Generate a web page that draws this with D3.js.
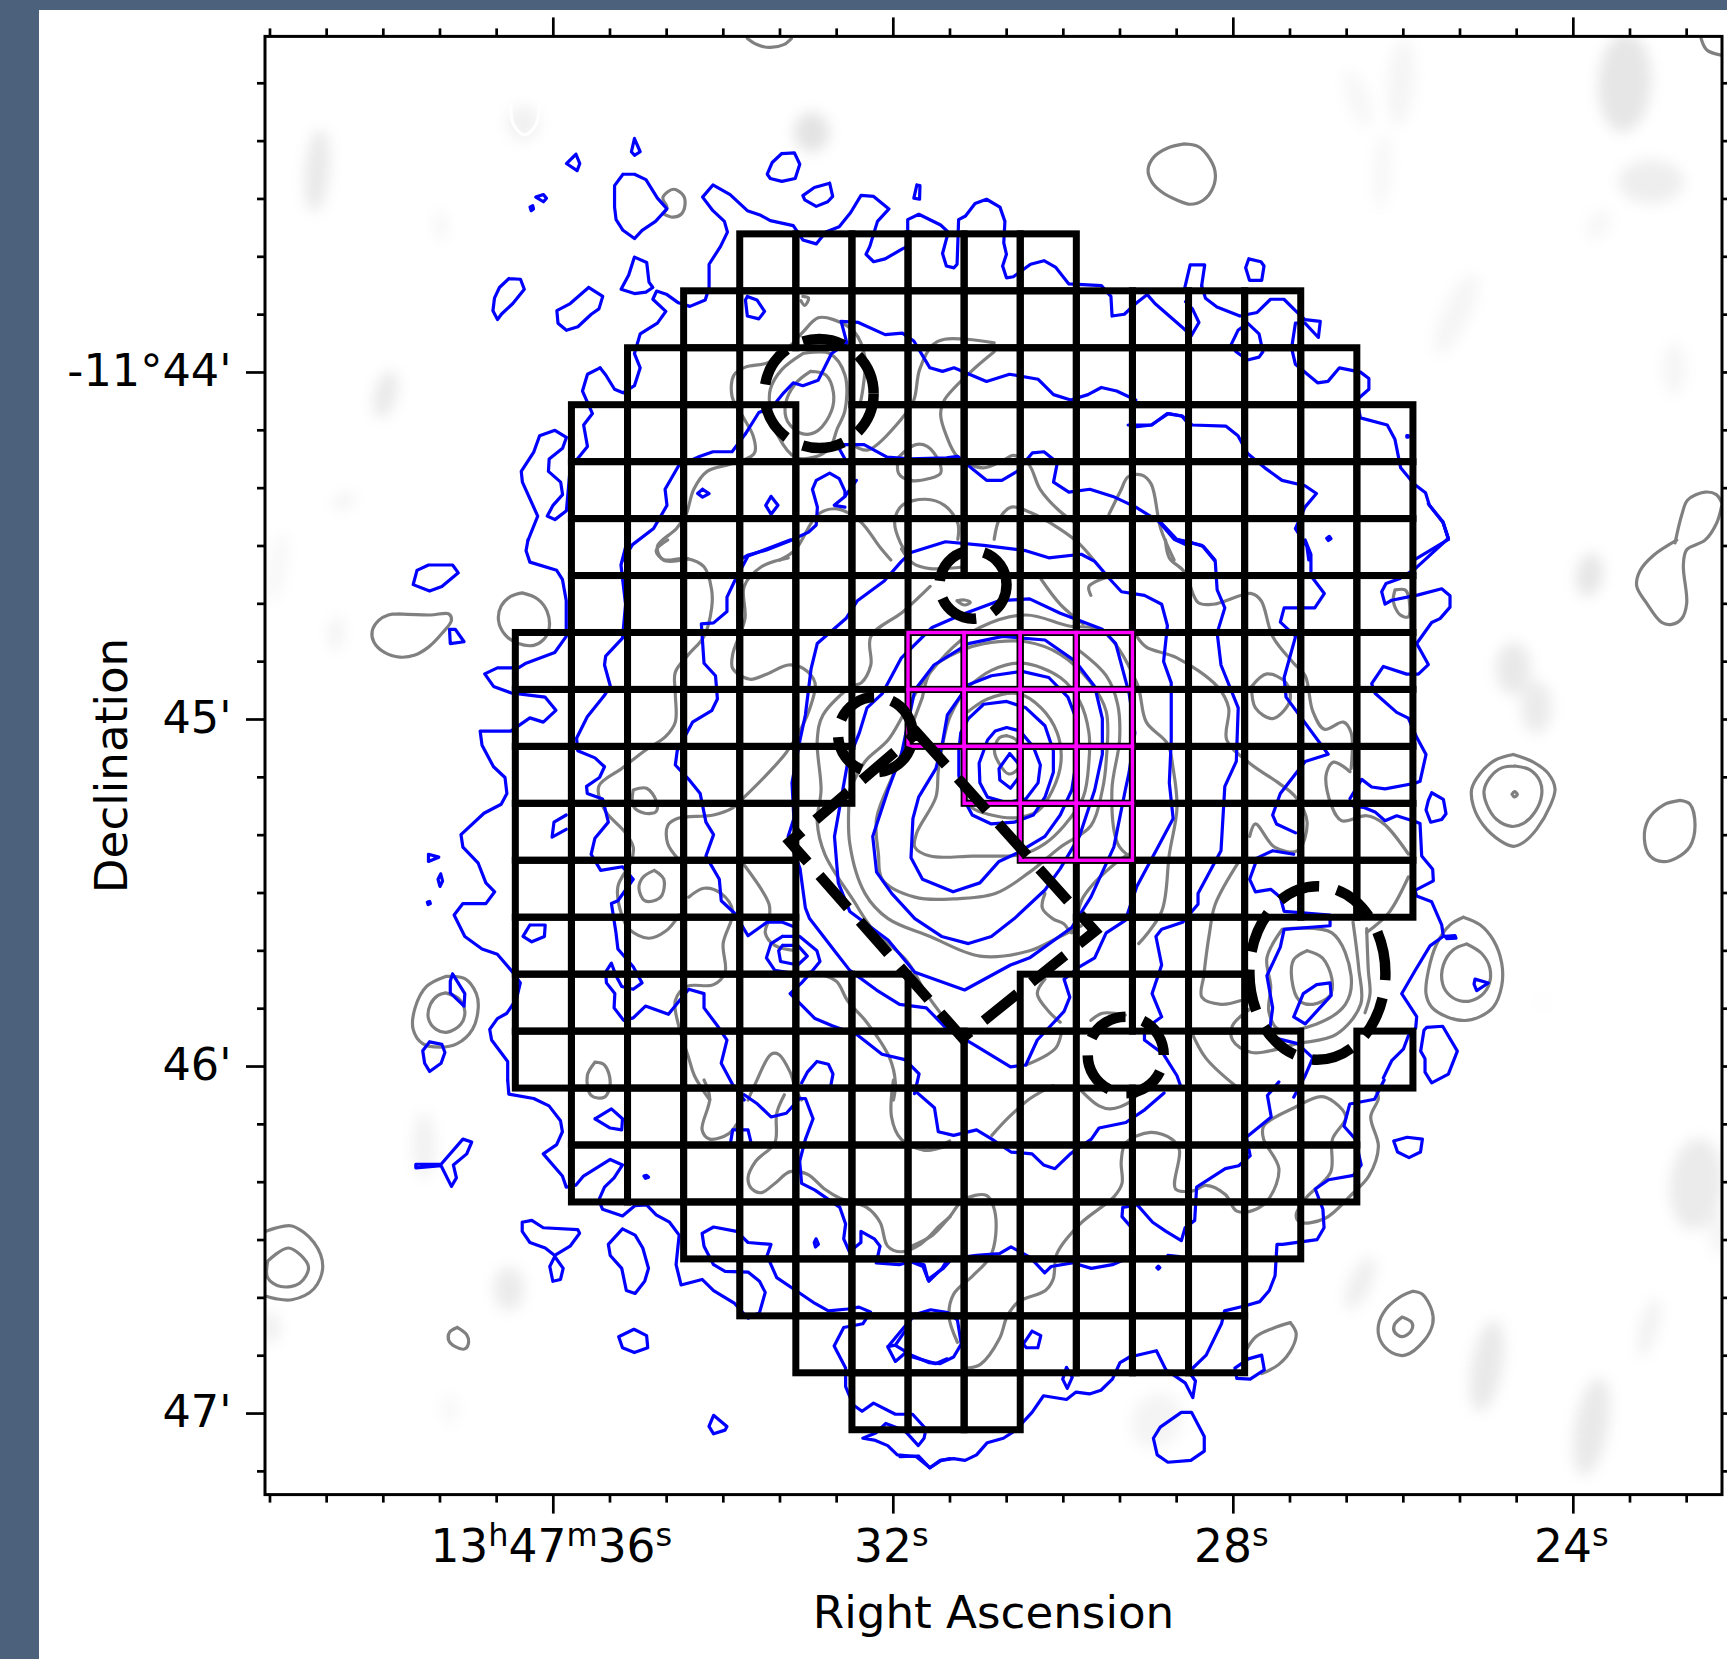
<!DOCTYPE html>
<html>
<head>
<meta charset="utf-8">
<script src="https://cdn.jsdelivr.net/npm/d3@7"></script>
<style>
    html, body { margin: 0; padding: 0; background: #fff; }
    svg { display: block; }
    text { font-family: "DejaVu Sans", sans-serif; fill: #000; }
</style>
</head>
<body>
<div id="plotRegi"></div>
<script>
/* Data */
// Axis ticks: RA in seconds of 13h47m, Dec in arcmin below -11 deg
const raMajor = [36, 32, 28, 24]
const raLabels = [["13", "h", "47", "m", "36", "s"], ["32", "s"], ["28", "s"], ["24", "s"]]
const decMajor = [44, 45, 46, 47]
const decLabels = ["-11°44'", "45'", "46'", "47'"]

// Spaxel map, each row: [row, firstCol, lastCol, firstCol, lastCol, ...]
const blackSpans = [
    [0, 4, 9], [1, 3, 13], [2, 2, 3, 6, 14], [3, 1, 4, 6, 15], [4, 1, 15], [5, 1, 15],
    [6, 1, 6, 9, 15], [7, 0, 15], [8, 0, 5, 7, 15], [9, 0, 5, 8, 15], [10, 0, 4, 9, 15],
    [11, 0, 4, 10, 15], [12, 0, 4, 10, 12], [13, 0, 6, 9, 12], [14, 0, 9, 12, 13, 15, 15],
    [15, 1, 14], [16, 1, 14], [17, 3, 13], [18, 4, 12], [19, 5, 12], [20, 6, 8]
]
const magentaSpans = [[7, 7, 10], [8, 7, 10], [9, 8, 10], [10, 9, 10]]
const spaxelRa0 = 36.441, spaxelRaStep = 0.66
const spaxelDec0 = 43.602, spaxelDecStep = 0.1641

// Masked regions, sky position [ra, dec, radius ra (s), radius dec (arcmin)]
const maskEllipses = [
    [32.868, 44.0622, 0.642, 0.157],
    [31.056, 44.613, 0.394, 0.098],
    [32.205, 45.045, 0.439, 0.108],
    [29.26, 45.968, 0.447, 0.110],
    [27.005, 45.732, 0.800, 0.250]
]
const maskBox = [[31.715, 45.04], [29.621, 45.611], [31.18, 45.919], [33.212, 45.354]]

// Digitised frames: [x origin, y origin, x zoom, y zoom] -> map pixel
const frames = [
    [0, 0, 0.90788, 0.90788],
    [0, 0, 2.613, 2.8],
    [600, 0, 2.613, 2.8],
    [1127, 0, 2.613, 2.8],
    [350, 540, 2.613, 2.8],
    [800, 540, 2.613, 2.8],
    [350, 1080, 2.613, 2.708],
    [900, 1080, 2.613, 2.708],
    [1300, 500, 3, 2.613]
]

// Faint image patches: [x, y, rx, ry, tilt, level]
const patches = [
    [288, 155, 11, 38, 5, 0.8], [350, 358, 10, 22, 15, 0.8], [400, 205, 5, 14, 0, 0.4], [312, 455, 11, 6, -30, 0.5],
    [252, 515, 8, 32, 10, 0.3], [305, 575, 6, 16, 5, 0.5], [475, 112, 15, 16, 0, 0.5], [737, 120, 16, 18, 0, 1],
    [1233, 90, 10, 28, -20, 0.3], [1272, 75, 12, 40, 5, 0.35], [1255, 155, 8, 35, 3, 0.3],
    [1475, 75, 24, 45, 3, 0.9], [1499, 165, 30, 20, 0, 0.6], [1451, 204, 10, 15, 30, 0.3],
    [1322, 285, 12, 40, 25, 0.35], [1520, 335, 10, 24, 0, 0.35], [1443, 522, 12, 20, 10, 0.9],
    [1374, 607, 16, 24, 0, 0.8], [1395, 642, 14, 24, 0, 0.7],
    [1540, 1075, 24, 42, 5, 0.7], [1350, 1240, 14, 42, 10, 0.8], [1445, 1295, 15, 45, 10, 0.8], [1497, 1205, 8, 28, 15, 0.5],
    [1235, 1165, 10, 26, 25, 0.6], [462, 1170, 14, 20, 0, 0.7], [385, 1040, 10, 30, 0, 0.5], [408, 1280, 7, 14, 0, 0.3],
    [246, 1205, 8, 14, 0, 0.6], [1050, 1290, 22, 26, 30, 0.4], [1400, 910, 5, 5, 0, 0.2], [1560, 1120, 8, 20, 0, 0.4]
]

// White contour
const whiteLines = [[1, [1335, 295, 1340, 345, 1370, 378, 1400, 350, 1410, 295]]]

// Gray contours: [frame, [x, y, ...]]
const grayLines = [
    [2, [385, 108, 410, 125, 445, 133, 480, 125, 500, 108]],
    [3, [1500, 108, 1515, 140, 1555, 155]],
    [3, [150, 403, 185, 410, 210, 435, 230, 480, 225, 525, 200, 560, 165, 572, 130, 560, 90, 537, 65, 510, 55, 475, 70, 440, 105, 415, 150, 403]],
    [2, [165, 598, 190, 608, 212, 600, 222, 575, 218, 548, 192, 530, 165, 550, 165, 560, 175, 580, 165, 598]],
    [4, [125, 207, 210, 210, 258, 207, 265, 225, 240, 262, 205, 300, 170, 322, 130, 328, 90, 315, 62, 285, 58, 255, 75, 225, 100, 210, 125, 207]],
    [4, [450, 148, 490, 165, 515, 200, 520, 250, 505, 280, 480, 295, 440, 290, 405, 265, 388, 225, 395, 185, 420, 158, 450, 148]],
    [4, [250, 1222, 300, 1228, 330, 1270, 335, 1310, 320, 1370, 280, 1410, 235, 1420, 190, 1410, 165, 1370, 170, 1310, 200, 1250, 250, 1222]],
    [4, [250, 1268, 285, 1285, 300, 1320, 290, 1355, 255, 1378, 225, 1370, 205, 1340, 210, 1300, 230, 1275, 250, 1268]],
    [0, [236, 1120, 250, 1115, 265, 1113, 285, 1128, 293, 1150, 285, 1170, 265, 1180, 250, 1179, 236, 1175]],
    [0, [243, 1145, 262, 1133, 280, 1150, 272, 1165, 255, 1168, 243, 1160, 243, 1145]],
    [6, [280, 670, 305, 690, 310, 710, 300, 728, 275, 722, 258, 705, 260, 683, 280, 670]],
    [7, [1340, 572, 1365, 580, 1390, 625, 1392, 660, 1370, 705, 1320, 745, 1285, 738, 1255, 705, 1250, 665, 1270, 620, 1310, 585, 1340, 572]],
    [7, [1312, 642, 1338, 658, 1335, 680, 1312, 695, 1292, 682, 1292, 662, 1312, 642]],
    [7, [1020, 657, 1035, 685, 1025, 725, 990, 770, 945, 795]],
    [7, [905, 730, 930, 695, 975, 672, 1020, 657]],
    [8, [640, 665, 700, 685, 745, 715, 765, 755, 750, 800, 710, 860, 670, 895, 640, 905, 600, 890, 550, 850, 520, 800, 515, 755, 540, 715, 585, 680, 640, 665]],
    [8, [645, 695, 690, 705, 720, 735, 725, 770, 705, 815, 670, 845, 635, 853, 590, 835, 560, 795, 552, 760, 570, 725, 605, 700, 645, 695]],
    [8, [636, 769, 643, 762, 652, 769, 643, 776, 636, 769]],
    [8, [1140, 785, 1170, 795, 1185, 850, 1170, 905, 1130, 935, 1090, 945, 1050, 930, 1033, 885, 1045, 835, 1090, 797, 1140, 785]],
    [8, [1130, 105, 1060, 145, 1020, 185, 1010, 225, 1040, 270, 1085, 320, 1115, 325, 1145, 310, 1160, 270, 1150, 170, 1160, 130, 1215, 105, 1250, 60, 1265, 15]],
    [3, [1432, 1520, 1450, 1440, 1465, 1400, 1510, 1378, 1540, 1385, 1555, 1410]],
    [8, [490, 1090, 540, 1110, 580, 1150, 605, 1210, 605, 1270, 580, 1325, 540, 1350, 495, 1360, 440, 1350, 395, 1325, 378, 1290, 385, 1230, 410, 1160, 450, 1110, 490, 1090]],
    [8, [500, 1160, 545, 1185, 570, 1225, 565, 1270, 535, 1300, 490, 1310, 450, 1295, 428, 1265, 430, 1215, 460, 1175, 500, 1160]],
    [8, [285, 235, 315, 235, 325, 250, 325, 305, 300, 300, 280, 265, 285, 235]],
    // top of the map
    [2, [530, 830, 545, 835, 535, 855, 525, 842]],
    [2, [550, 1040, 590, 1050, 610, 1100, 605, 1150, 570, 1205, 530, 1215, 490, 1180, 485, 1130, 510, 1075, 550, 1040]],
    [2, [530, 990, 600, 990, 640, 1050, 640, 1150, 620, 1200, 600, 1255, 560, 1280, 510, 1280, 465, 1220, 445, 1150, 445, 1090, 475, 1035, 530, 990]],
    [2, [680, 1130, 688, 1080, 692, 1000, 665, 930, 610, 895, 570, 890, 530, 930, 500, 965, 440, 1015, 380, 1028, 350, 1050, 345, 1110, 375, 1170, 400, 1220, 405, 1265, 395, 1278, 340, 1300, 280, 1320, 245, 1370, 225, 1440, 200, 1480, 150, 1530, 165, 1568, 230, 1565]],
    [2, [1030, 960, 960, 950, 900, 950, 870, 965, 835, 1035, 820, 1120, 790, 1170, 700, 1260, 660, 1245]],
    [2, [1030, 985, 970, 1040, 900, 1120, 890, 1160, 905, 1220, 935, 1280, 1000, 1310, 1060, 1285, 1080, 1275, 1120, 1300, 1150, 1370, 1200, 1430, 1250, 1470]],
    [2, [780, 1280, 825, 1245, 855, 1250, 885, 1290, 890, 1325, 860, 1340, 810, 1345, 780, 1325, 780, 1280]],
    [2, [810, 1560, 785, 1520, 770, 1460, 790, 1415, 850, 1398, 900, 1415, 935, 1465, 935, 1510]],
    [2, [1030, 1510, 1045, 1450, 1075, 1420, 1125, 1435, 1200, 1480, 1250, 1520, 1290, 1568]],
    [2, [1330, 1440, 1360, 1375, 1380, 1335, 1415, 1330, 1440, 1355, 1465, 1480, 1500, 1568]],
    [2, [470, 1568, 510, 1540, 570, 1440, 620, 1425, 680, 1460, 730, 1530, 760, 1568]],
    // left of the map
    [4, [830, 0, 800, 30, 820, 55, 880, 52, 925, 75, 945, 140, 945, 190, 925, 270, 885, 320, 850, 370, 850, 430, 850, 510, 825, 550, 770, 590, 710, 640, 650, 690, 665, 755, 720, 820, 740, 860, 735, 900, 700, 970, 710, 1050, 730, 1090, 780, 1115, 825, 1095, 860, 1050]],
    [4, [1145, 50, 1075, 75, 1030, 130, 1032, 220, 1000, 320, 1000, 360, 1045, 390, 1090, 375, 1145, 350, 1185, 360, 1215, 400, 1205, 460, 1180, 525, 1140, 595, 1095, 650, 1030, 720, 1000, 750, 950, 770, 855, 780, 830, 800, 830, 850, 855, 890]],
    [4, [740, 700, 775, 695, 800, 730, 800, 760, 770, 765, 740, 745, 740, 700]],
    [4, [795, 925, 820, 950, 815, 995, 800, 1008, 770, 1010, 755, 975, 765, 945, 795, 925]],
    [4, [1030, 910, 1095, 1020, 1095, 1060, 1085, 1100, 1110, 1135, 1165, 1150]],
    [4, [885, 1000, 925, 975, 970, 990, 1000, 1040, 975, 1130, 980, 1210, 950, 1245, 880, 1250, 850, 1290, 860, 1365, 885, 1450, 900, 1500, 940, 1568]],
    [4, [640, 1462, 665, 1470, 680, 1520, 665, 1560, 630, 1555, 620, 1500, 640, 1462]],
    [4, [1040, 1568, 1060, 1520, 1100, 1440, 1120, 1440, 1150, 1490, 1165, 1540, 1180, 1568]],
    [4, [1205, 1210, 1270, 1235, 1300, 1290, 1350, 1350, 1410, 1450, 1425, 1520, 1420, 1568]],
    // central source
    [5, [540, 548, 565, 560, 575, 600, 570, 640, 545, 655, 520, 625, 508, 590, 520, 555, 540, 548]],
    [5, [430, 710, 450, 750, 500, 770, 560, 778, 620, 760, 660, 700, 682, 620, 672, 540, 630, 470, 570, 430, 490, 445, 440, 480]],
    [5, [430, 420, 500, 365, 580, 345, 680, 385, 730, 450, 755, 540, 755, 620, 740, 720, 690, 800, 640, 850, 580, 880, 450, 885, 340, 885, 300, 860, 305, 820, 355, 720, 362, 640, 390, 500, 430, 420]],
    [5, [320, 440, 345, 360, 420, 310, 480, 290, 590, 285, 680, 320, 760, 400, 800, 480, 800, 620, 790, 700, 760, 800, 680, 860, 600, 930, 510, 990, 400, 1005, 300, 1000, 215, 950, 205, 880, 200, 780, 250, 640, 320, 440]],
    [5, [730, 310, 800, 380, 830, 460, 835, 560, 815, 700, 830, 850, 860, 885]],
    [5, [130, 700, 130, 850, 170, 990, 230, 1060, 340, 1110, 470, 1165, 600, 1150, 680, 1110, 735, 1080]],
    [5, [130, 700, 170, 620, 230, 560, 275, 480, 320, 400, 400, 300, 470, 245, 590, 210, 700, 240, 790, 255, 880, 400, 905, 510, 960, 570, 975, 640, 985, 750, 965, 880, 945, 1040, 885, 1130]],
    [5, [340, 130, 270, 200, 185, 270, 185, 350, 160, 400, 135, 410, 60, 490, 45, 560, 55, 700, 45, 790, 65, 880, 140, 1010, 190, 1090, 280, 1180, 330, 1270, 400, 1370]],
    [5, [640, 990, 633, 1030, 660, 1060, 690, 1075, 710, 1100, 740, 1000, 830, 900, 860, 880]],
    [5, [430, 75, 340, 80, 295, 65, 265, 25]],
    [5, [410, 170, 430, 168, 445, 175, 430, 182, 410, 170]],
    [5, [630, 110, 680, 180, 740, 235]],
    [5, [760, 155, 755, 130, 800, 105]],
    // right of the source
    [5, [955, 0, 965, 50, 1005, 90, 1040, 175, 1080, 180, 1180, 150, 1205, 170, 1235, 270, 1290, 345, 1320, 380, 1340, 480, 1370, 530, 1420, 510, 1440, 540, 1440, 640]],
    [5, [1180, 410, 1220, 375, 1270, 400, 1280, 450, 1235, 500, 1190, 470, 1180, 410]],
    [5, [880, 270, 905, 300, 985, 330, 1090, 410, 1120, 470, 1115, 560, 1175, 625, 1250, 680, 1295, 720, 1325, 790, 1300, 870, 1240, 860, 1190, 795, 1175, 830]],
    [8, [150, 710, 100, 685, 78, 720, 95, 800, 125, 838, 200, 825, 250, 845, 325, 925]],
    [5, [1325, 1150, 1365, 1170, 1390, 1230, 1385, 1275, 1340, 1300, 1305, 1290, 1285, 1230, 1290, 1175, 1325, 1150]],
    [5, [1260, 1090, 1390, 1100, 1440, 1220, 1425, 1300, 1350, 1355, 1250, 1370, 1225, 1320, 1230, 1250, 1220, 1170, 1260, 1090]],
    [5, [1445, 1070, 1460, 1200, 1465, 1300, 1400, 1385, 1300, 1410, 1180, 1435, 1130, 1400, 1130, 1360, 1180, 1310]],
    [8, [200, 1120, 205, 1230, 210, 1290, 195, 1340]],
    [8, [325, 985, 265, 1080, 200, 1130]],
    [5, [1150, 895, 1085, 1020, 1070, 1100, 1055, 1220, 1050, 1280, 1100, 1300, 1150, 1290]],
    [5, [1020, 1370, 1060, 1450, 1140, 1530]],
    [5, [640, 1230, 620, 1270, 650, 1320, 680, 1350]],
    [5, [590, 1470, 640, 1445, 670, 1420, 685, 1370]],
    [5, [760, 1345, 790, 1325, 850, 1330]],
    // below the source
    [6, [925, 0, 940, 50, 920, 135, 940, 160, 990, 145, 1010, 120]],
    [6, [1135, 40, 1115, 90, 1110, 170, 1060, 220, 1040, 265, 1050, 295, 1075, 305, 1110, 280, 1150, 248, 1195, 255, 1240, 295, 1280, 320, 1350, 345, 1385, 385, 1405, 450, 1440, 465, 1490, 445, 1540, 395, 1568, 370]],
    [7, [30, 450, 85, 420, 130, 370, 165, 325, 225, 312, 245, 345, 250, 420, 235, 480, 190, 530, 140, 580, 128, 640, 150, 710]],
    [6, [1420, 0, 1415, 100, 1440, 160, 1500, 190, 1568, 175]],
    [7, [30, 175, 70, 190, 130, 165]],
    [7, [175, 780, 210, 770, 260, 700, 280, 640, 310, 600, 380, 570, 400, 540, 410, 470, 470, 390, 560, 315, 580, 280, 578, 220, 590, 170, 655, 142, 710, 160, 730, 190, 720, 295, 765, 300, 800, 285, 850, 310, 880, 355, 930, 350, 965, 320, 990, 240, 950, 160, 950, 125, 1030, 75, 1100, 45, 1135, 60, 1165, 100, 1130, 160, 1125, 250, 1060, 320, 1035, 365, 1045, 385, 1110, 375, 1180, 310, 1225, 260, 1250, 180, 1230, 100, 1250, 50, 1245, 30]],
    [7, [240, 150, 285, 100, 340, 50, 400, 15]],
    [7, [470, 25, 520, 70, 550, 78, 600, 60, 620, 40]]
]

// Blue contours: [frame, [x, y, ...]]
const blueLines = [
    [1, [1505, 432, 1515, 458, 1508, 478, 1480, 458, 1505, 432]],
    [1, [1400, 552, 1420, 545, 1428, 555, 1420, 565, 1400, 552]],
    [1, [1385, 580, 1392, 576, 1394, 585, 1388, 590, 1385, 580]],
    [1, [1330, 780, 1360, 782, 1370, 810, 1340, 850, 1310, 880, 1300, 895, 1288, 870, 1292, 835, 1305, 805, 1330, 780]],
    [1, [1538, 805, 1575, 830, 1565, 865, 1545, 880, 1510, 915, 1480, 925, 1458, 905, 1455, 870, 1490, 850, 1538, 805]],
    [1, [1568, 1030, 1535, 1048, 1522, 1095, 1548, 1158, 1525, 1190, 1535, 1250, 1490, 1310, 1480, 1430, 1450, 1455, 1430, 1445, 1445, 1415, 1470, 1385, 1465, 1350, 1433, 1320, 1435, 1285, 1470, 1255, 1480, 1225, 1450, 1205, 1410, 1220, 1395, 1265, 1362, 1320, 1365, 1350, 1405, 1445, 1380, 1512]],
    [2, [90, 388, 105, 425, 90, 435, 82, 425, 90, 388]],
    [2, [60, 488, 90, 488, 120, 503, 150, 555, 175, 585, 145, 620, 110, 645, 90, 668, 60, 645, 42, 615, 38, 580, 38, 520, 60, 488]],
    [2, [475, 430, 508, 428, 522, 460, 510, 500, 475, 508, 445, 500, 437, 488, 450, 455, 475, 430]],
    [2, [600, 513, 608, 550, 595, 565, 565, 578, 535, 560, 530, 548, 560, 525, 600, 513]],
    [2, [828, 518, 836, 520, 835, 558, 820, 555, 828, 518]],
    [2, [90, 720, 122, 735, 128, 790, 138, 805, 120, 818, 90, 822, 55, 810, 75, 770, 90, 720]],
    // outer edge, top
    [2, [0, 1030, 15, 1050, 38, 1090, 60, 1100, 90, 1080, 105, 1030, 90, 990, 105, 935, 150, 905, 172, 872, 138, 838, 148, 815, 175, 825, 205, 848, 235, 858, 275, 840, 285, 805, 285, 740, 315, 690, 333, 650, 325, 620, 295, 590, 268, 552, 295, 518, 340, 545, 385, 590, 420, 603, 445, 618, 505, 632, 530, 672, 565, 683, 590, 650, 625, 635, 655, 595, 682, 547, 715, 550, 755, 585, 725, 620, 705, 690, 695, 712, 715, 733, 745, 725, 790, 697, 804, 690, 804, 615, 833, 600, 890, 630, 910, 650, 895, 710, 905, 745, 925, 750, 933, 740, 937, 615, 955, 605, 980, 570, 1010, 558, 1045, 580, 1058, 620, 1055, 680, 1062, 712, 1052, 745, 1062, 778, 1080, 775, 1125, 740, 1160, 730, 1190, 748, 1225, 795, 1310, 800, 1335, 830, 1338, 885, 1370, 880, 1400, 850, 1430, 825, 1450, 850, 1525, 920, 1545, 940, 1565, 903, 1548, 865, 1530, 845]],
    [3, [195, 800, 205, 835, 235, 860, 295, 885, 340, 875, 375, 838, 410, 838, 440, 870, 465, 895, 505, 900, 500, 945, 465, 905, 440, 905, 430, 975, 440, 1020, 498, 1072, 525, 1068, 555, 1030, 610, 1042, 632, 1060, 632, 1090, 600, 1120, 610, 1170, 680, 1190, 700, 1230, 715, 1310, 750, 1355, 780, 1380, 790, 1415, 825, 1460, 840, 1510, 755, 1565]],
    [3, [150, 810, 165, 742, 203, 742, 195, 800]],
    [3, [318, 725, 350, 733, 358, 745, 352, 785, 320, 785, 310, 750, 318, 725]],
    [3, [290, 925, 315, 905, 345, 935, 355, 985, 345, 1000, 315, 1008, 285, 985, 272, 965, 290, 925]],
    [3, [731, 1220, 735, 1220, 735, 1224, 731, 1224, 731, 1220]],
    // second contour
    [2, [380, 1215, 415, 1155, 450, 1140, 480, 1100, 505, 1072, 530, 1080, 570, 1065, 605, 990, 645, 960, 630, 900, 675, 903, 745, 937, 790, 933, 820, 955, 862, 1030, 895, 1040, 925, 1030, 965, 1048, 1010, 1068, 1070, 1048, 1145, 1062, 1185, 1105, 1230, 1120, 1275, 1105, 1310, 1085, 1350, 1095, 1400, 1120]],
    [2, [1380, 1190, 1440, 1190, 1485, 1158, 1520, 1165, 1540, 1190]],
    [3, [25, 1195, 65, 1190, 105, 1158, 145, 1165, 170, 1190, 258, 1193, 290, 1220, 315, 1270, 360, 1310, 405, 1345, 465, 1360, 495, 1382, 465, 1420, 440, 1480, 470, 1530, 475, 1568]],
    [2, [380, 1215, 345, 1265, 295, 1265, 260, 1278, 205, 1305, 170, 1370, 175, 1415, 140, 1480, 85, 1525, 60, 1568]],
    [2, [385, 830, 410, 840, 430, 872, 415, 893, 385, 885, 380, 840, 385, 830]],
    [2, [670, 1345, 640, 1390, 612, 1415, 640, 1420]],
    [2, [640, 1390, 640, 1375, 625, 1340, 600, 1325, 565, 1345, 555, 1370, 568, 1420, 565, 1470, 545, 1490, 495, 1515, 435, 1540, 385, 1555, 365, 1568]],
    [2, [447, 1390, 465, 1415, 447, 1440, 433, 1415, 447, 1390]],
    [2, [268, 1370, 285, 1382, 268, 1392, 255, 1382, 268, 1370]],
    [2, [622, 1250, 640, 1285]],
    [2, [622, 1250, 640, 1245, 690, 1245, 750, 1280, 810, 1285, 905, 1282, 935, 1278, 975, 1315, 1010, 1345, 1050, 1345, 1090, 1320, 1130, 1268, 1160, 1265, 1195, 1295, 1185, 1350, 1225, 1378, 1280, 1370, 1340, 1390, 1400, 1420, 1460, 1460, 1500, 1510, 1540, 1530]],
    [3, [90, 1465, 130, 1510, 170, 1520, 200, 1530, 230, 1568]],
    // outer edge, left
    [4, [465, 0, 460, 30, 470, 62, 540, 85, 555, 110, 565, 170, 565, 270, 535, 315, 460, 345, 440, 358, 385, 358, 352, 375, 375, 410, 420, 428, 510, 440, 538, 477, 505, 510, 470, 498, 420, 535, 340, 535, 345, 575, 375, 635, 405, 665, 410, 710, 395, 740, 350, 765, 290, 825, 295, 860, 335, 905, 355, 960, 378, 985, 355, 1018, 295, 1018, 272, 1050, 300, 1110, 345, 1145, 385, 1160, 425, 1210, 445, 1240, 435, 1285, 410, 1325, 385, 1340, 365, 1370, 370, 1400, 412, 1460, 412, 1512]],
    [6, [412, 0, 415, 38, 480, 50, 520, 70, 550, 110, 555, 140, 540, 175, 505, 200, 555, 260, 565, 290, 590, 285, 610, 260, 680, 215, 712, 230, 690, 265, 665, 290, 650, 325, 660, 350, 712, 368, 745, 340, 775, 338, 800, 365, 835, 385, 860, 420, 852, 500, 865, 555, 920, 540, 950, 570, 1005, 605, 1040, 645, 1070, 630, 1085, 575, 1070, 545, 1040, 520, 980, 518, 950, 500, 925, 450, 920, 415, 950, 398, 1010, 410, 1040, 440, 1100, 445, 1090, 475, 1100, 500, 1115, 535, 1165, 570, 1215, 605, 1250, 625, 1300, 620, 1330, 615, 1360, 628, 1340, 660, 1290, 670, 1265, 720, 1295, 780, 1295, 830, 1315, 880, 1338, 897, 1368, 875, 1425, 905, 1470, 905, 1505, 945, 1500, 970, 1485, 990, 1450, 950, 1400, 930, 1375, 955, 1340, 970, 1370, 975, 1405, 990, 1430, 1015, 1480, 1020, 1515, 1050, 1545, 1030, 1568, 1025]],
    [7, [0, 1020, 48, 1018, 78, 1050, 105, 1030, 140, 1025, 170, 1030, 200, 1015, 228, 982, 270, 970, 300, 950, 345, 900, 375, 855, 435, 865, 460, 845, 495, 850, 525, 840, 555, 810, 575, 765, 600, 750, 670, 733, 695, 785, 745, 820, 765, 860, 772, 815, 755, 790, 800, 745, 840, 660, 848, 625, 900, 612, 940, 600, 965, 570, 980, 530, 985, 445, 1000, 445, 1090, 432, 1108, 400, 1105, 350, 1085, 295, 1120, 270, 1185, 258, 1205, 230, 1190, 160, 1160, 125, 1175, 65, 1240, 52, 1265, 0]],
    [8, [250, 1510, 275, 1465, 310, 1435, 325, 1400, 347, 1380, 350, 1350, 305, 1290, 345, 1230, 390, 1165, 430, 1140, 425, 1110, 395, 1050, 350, 1035, 345, 1020, 400, 995, 398, 965, 365, 930, 360, 845, 345, 840, 290, 825, 255, 838, 225, 815, 190, 803, 160, 800]],
    [8, [150, 780, 185, 730, 215, 750, 255, 755, 345, 740, 360, 735, 378, 665, 350, 620, 325, 570, 290, 555, 225, 505, 215, 480, 250, 435, 320, 455, 355, 455, 385, 430, 350, 375, 395, 320, 420, 310, 450, 280, 450, 250, 425, 232, 355, 248, 275, 262, 255, 272, 245, 240, 258, 218, 300, 205, 345, 180, 445, 100, 430, 60, 385, 10]],
    [3, [840, 1510, 825, 1460]],
    [8, [395, 765, 430, 782, 438, 820, 425, 835, 392, 842, 378, 810, 385, 785, 395, 765]],
    [8, [435, 1140, 465, 1138, 468, 1145, 440, 1146, 435, 1140]],
    [8, [525, 1252, 565, 1262, 530, 1282, 522, 1265, 525, 1252]],
    [8, [380, 1378, 428, 1375, 472, 1440, 445, 1500, 395, 1523, 375, 1495, 375, 1460, 362, 1440, 372, 1385, 380, 1378]],
    [8, [80, 100, 88, 95, 93, 101, 85, 106, 80, 100]],
    // inner left contours
    [4, [725, 0, 708, 70, 720, 180, 712, 275, 668, 325, 665, 350, 680, 408, 665, 435, 620, 495, 592, 555, 595, 590, 640, 610, 665, 635, 652, 665, 618, 690, 620, 710, 660, 725, 675, 790, 640, 835, 630, 880, 655, 925, 712, 915, 740, 950, 700, 1010, 683, 1018, 695, 1100, 700, 1145, 740, 1195, 763, 1240, 740, 1258, 710, 1250, 695, 1220, 683, 1185, 668, 1210, 670, 1240, 692, 1270, 690, 1310, 715, 1345, 740, 1338, 772, 1305, 832, 1328, 885, 1258, 925, 1270, 925, 1310, 960, 1360, 985, 1400, 970, 1465, 1000, 1525, 1030, 1568]],
    [4, [1150, 0, 1040, 45, 1005, 115, 985, 160, 985, 200, 950, 232, 918, 235, 925, 345, 955, 380, 960, 445, 945, 478, 895, 510, 855, 590, 850, 630, 885, 670, 915, 710, 930, 790, 950, 825, 930, 885, 965, 950, 970, 1010, 1005, 1045, 1040, 1108, 1090, 1070, 1130, 1070, 1165, 1085]],
    [4, [1130, 1110, 1175, 1110, 1220, 1150, 1228, 1180, 1205, 1210, 1180, 1240, 1150, 1270, 1178, 1300, 1215, 1340, 1260, 1360, 1325, 1385, 1390, 1440, 1450, 1455, 1487, 1495, 1475, 1550]],
    [4, [1130, 1110, 1100, 1130, 1088, 1170, 1110, 1205, 1165, 1215, 1205, 1210]],
    [4, [1130, 1135, 1170, 1135, 1195, 1165, 1170, 1190, 1125, 1180, 1120, 1150, 1130, 1135]],
    [4, [175, 85, 205, 70, 268, 70, 283, 92, 240, 130, 208, 143, 165, 125, 175, 85]],
    [4, [260, 250, 275, 250, 298, 285, 262, 290, 260, 250]],
    [4, [565, 770, 533, 790, 528, 832, 565, 810]],
    [4, [205, 880, 232, 888, 205, 900, 205, 880]],
    [4, [237, 935, 242, 955, 235, 970, 230, 950, 237, 935]],
    [4, [202, 1014, 208, 1012, 210, 1018, 204, 1021, 202, 1014]],
    [4, [470, 1078, 510, 1078, 508, 1110, 475, 1125, 452, 1110, 470, 1078]],
    [4, [268, 1215, 300, 1270, 298, 1305, 262, 1268, 262, 1235, 268, 1215]],
    [4, [208, 1405, 240, 1412, 248, 1435, 238, 1465, 208, 1488, 195, 1465, 190, 1430, 208, 1405]],
    [4, [1180, 1520, 1195, 1490, 1220, 1460, 1250, 1468, 1262, 1495, 1255, 1535]],
    // central source
    [5, [548, 598, 578, 635, 575, 660, 550, 695, 522, 672, 520, 640, 548, 598]],
    [5, [510, 535, 540, 525, 575, 535, 610, 580, 628, 630, 622, 680, 590, 725, 540, 735, 490, 720, 470, 680, 468, 625, 490, 560, 510, 535]],
    [5, [440, 500, 480, 460, 540, 452, 590, 470, 640, 520, 662, 590, 662, 650, 640, 720, 610, 770, 560, 790, 500, 795, 450, 770, 430, 730, 415, 660, 415, 590, 420, 540, 440, 500]],
    [5, [440, 405, 500, 380, 580, 368, 650, 385, 700, 440, 725, 510, 725, 600, 710, 700, 680, 770, 640, 830, 565, 878, 520, 900, 470, 960, 400, 985, 320, 950, 290, 890, 295, 780, 310, 720, 355, 640, 372, 570, 385, 490, 440, 405]],
    [5, [300, 420, 350, 350, 440, 290, 530, 270, 640, 280, 720, 340, 770, 410, 790, 500, 790, 600, 770, 700, 730, 830, 680, 920, 640, 980, 560, 1060, 500, 1110, 440, 1130, 370, 1110, 300, 1060, 240, 990, 200, 930, 190, 830, 230, 700, 265, 600, 300, 420]],
    [5, [345, 245, 420, 210, 520, 170, 600, 165, 680, 205, 790, 250, 825, 290, 860, 430, 875, 540, 860, 650, 850, 700, 820, 860, 760, 1000, 710, 1085, 600, 1170, 550, 1190, 430, 1260, 300, 1210, 230, 1120, 130, 1040, 100, 960, 90, 830, 125, 620, 155, 540, 175, 470, 215, 430, 265, 330, 345, 245]],
    [5, [45, 290, 120, 220, 150, 170, 220, 115, 265, 60, 290, 35, 380, 5, 480, 15, 590, 30, 650, 50, 735, 40, 770, 60, 810, 110, 840, 145, 900, 155, 945, 180, 960, 240, 950, 340, 970, 400, 970, 560, 965, 680, 975, 780, 935, 860, 880, 970, 850, 1065, 800, 1100, 770, 1170, 730, 1195, 690, 1230, 705, 1280, 690, 1320, 620, 1400, 590, 1470, 550, 1475, 450, 1410, 385, 1370, 330, 1310, 260, 1300, 200, 1260, 130, 1205, 90, 1150, 25, 1060, 14, 1030, 0, 920, -31, 830, -16, 780, -21, 680, 0, 560, 14, 490, 29, 360, 45, 290]],
    // right of the source
    [5, [990, 0, 1050, 15, 1085, 60, 1090, 140, 1110, 190, 1090, 260, 1100, 350, 1145, 470, 1140, 620, 1110, 690, 1100, 870, 1040, 990, 1040, 1020, 1000, 1070, 945, 1090, 930, 1110, 945, 1190, 920, 1270, 945, 1335, 900, 1370, 900, 1400, 950, 1440, 985, 1500, 995, 1530]],
    [5, [1320, 0, 1335, 40, 1335, 100, 1370, 150, 1345, 190, 1265, 190, 1255, 230, 1295, 270, 1265, 385, 1270, 440, 1380, 600, 1320, 620, 1255, 710, 1235, 770, 1245, 795, 1295, 820]],
    [5, [1290, 880, 1235, 870, 1195, 890, 1175, 950, 1190, 985, 1230, 978, 1255, 1000, 1265, 1040, 1385, 1050, 1385, 1080, 1265, 1090, 1255, 1140, 1220, 1220, 1235, 1310, 1225, 1390, 1300, 1410, 1340, 1450, 1320, 1500, 1290, 1560]],
    [5, [1290, 1335, 1315, 1270, 1350, 1245, 1385, 1240, 1388, 1275, 1320, 1355, 1290, 1335]],
    // lower map
    [6, [640, 105, 683, 78, 712, 105, 710, 135, 680, 130, 640, 105]],
    [6, [172, 228, 238, 228, 295, 160, 318, 168, 305, 200, 270, 230, 278, 265, 265, 288, 238, 232, 172, 238, 172, 228]],
    [6, [995, 165, 1000, 135, 1040, 135, 1048, 170]],
    [6, [1030, 40, 1065, 65, 1100, 100, 1140, 90, 1175, 50, 1190, 50, 1210, 105, 1190, 160, 1175, 220, 1180, 280, 1215, 298, 1280, 345, 1295, 390, 1290, 430, 1305, 465, 1335, 440, 1335, 410, 1370, 430, 1385, 450, 1375, 495, 1435, 500, 1470, 490, 1500, 500, 1510, 540, 1550, 510, 1568, 490]],
    [7, [0, 480, 60, 505, 75, 545, 110, 510, 125, 485, 200, 475, 260, 470, 290, 452, 340, 480, 378, 522, 395, 505, 450, 495, 500, 510, 555, 500, 600, 480]],
    [7, [700, 475, 730, 478]],
    [6, [768, 260, 775, 258, 780, 263, 772, 266, 768, 260]],
    [6, [1218, 430, 1224, 445, 1216, 452, 1213, 440, 1218, 430]],
    [6, [450, 385, 475, 380, 505, 400, 595, 405, 600, 415, 575, 450, 535, 475, 510, 455, 470, 440, 450, 410, 450, 385]],
    [6, [535, 478, 557, 510, 550, 540, 530, 545, 522, 505, 535, 478]],
    [6, [712, 403, 745, 420, 765, 455, 780, 510, 770, 545, 745, 578, 722, 570, 710, 510, 680, 475, 675, 445, 712, 403]],
    [6, [742, 675, 775, 692, 778, 725, 743, 738, 712, 725, 702, 695, 742, 675]],
    [6, [950, 908, 985, 938, 980, 948, 950, 958, 938, 938, 950, 908]],
    [6, [1450, 680, 1425, 718, 1405, 722, 1425, 762, 1450, 740, 1470, 750, 1530, 768, 1560, 755]],
    [7, [-10, 720, 30, 745, 75, 765, 105, 768, 140, 750, 160, 715, 150, 650, 125, 630, 80, 622, 40, 635, 10, 670, -30, 720]],
    [7, [345, 680, 368, 692, 360, 725, 330, 725, 322, 715, 345, 680]],
    [7, [435, 778, 425, 810, 437, 835, 450, 805, 435, 778]],
    [7, [735, 900, 762, 900, 795, 965, 795, 1005, 760, 1030, 700, 1035, 672, 1015, 662, 970, 680, 940, 735, 900]],
    [7, [875, 780, 910, 755, 945, 745, 952, 785, 915, 810, 880, 808, 875, 780]],
    [7, [671, 508, 675, 504, 679, 508, 675, 512, 671, 508]],
    [7, [1290, 165, 1325, 155, 1365, 160, 1360, 195, 1330, 210, 1300, 195, 1290, 165]],
    [7, [605, 400, 580, 370, 582, 345, 620, 338, 660, 385, 695, 410, 735, 435, 745, 400, 770, 380, 775, 290, 850, 240, 885, 232, 915, 205, 905, 155, 970, 100, 960, 42, 990, 5]],
    [7, [40, 30, 90, 75, 100, 140, 140, 150, 200, 135, 240, 160, 290, 195, 345, 200, 375, 230, 405, 240, 445, 200, 500, 160, 520, 130, 590, 115, 640, 80, 690, 35]]
]


/* Running */
// Page band behind the figure
var width = 1727, height = 1659
var margin = { top: 36.4, right: 5, bottom: 164.4, left: 265 }

var svg = d3
    .select("#plotRegi")
    .append("svg")
    .attr("id", "Map")
    .attr("width", width)
    .attr("height", height)

svg.append("rect").attr("width", width).attr("height", height).attr("fill", "#4c617b")
svg.append("rect").attr("x", 39).attr("y", 10).attr("width", width - 39).attr("height", height - 10).attr("fill", "white")

// Sky scales, RA runs right to left
var scale_x = d3.scaleLinear().domain([39.386, 22.245]).range([margin.left, width - margin.right])
var scale_y = d3.scaleLinear().domain([43.033, 47.235]).range([margin.top, height - margin.bottom])

// Map pixel to sky
function skyOf(frame, px, py) {
    let f = frames[frame]
    let X = f[0] + px / f[2]
    let Y = f[1] + py / f[3]
    return [36 - (X - 552.8) / 85, 44 + (Y - 372) / 347]
}

function contourPoints(frame, flat) {
    let pts = []
    for (let i = 0; i < flat.length; i += 2) {
        pts.push(skyOf(frame, flat[i], flat[i + 1]))
    }
    return pts
}

var line = d3.line().x(d => scale_x(d[0])).y(d => scale_y(d[1]))
var smoothLine = d3.line().x(d => scale_x(d[0])).y(d => scale_y(d[1])).curve(d3.curveCatmullRom.alpha(0.5))

var defs = svg.append("defs")
defs.append("clipPath").attr("id", "frame")
    .append("rect")
    .attr("x", margin.left)
    .attr("y", margin.top)
    .attr("width", width - margin.left - margin.right)
    .attr("height", height - margin.top - margin.bottom)
defs.append("filter").attr("id", "soft")
    .attr("x", "-80%").attr("y", "-80%").attr("width", "260%").attr("height", "260%")
    .append("feGaussianBlur").attr("stdDeviation", 7)

var canvas = svg.append("g").attr("id", "Canvas").attr("clip-path", "url(#frame)")

// Faint image
canvas.append("g").attr("id", "patches")
    .selectAll("ellipse")
    .data(patches)
    .enter()
    .append("ellipse")
    .attr("transform", d => {
        let s = skyOf(0, d[0], d[1])
        return "translate(" + scale_x(s[0]) + "," + scale_y(s[1]) + ") rotate(" + d[4] + ")"
    })
    .attr("rx", d => d[2] * 1.1)
    .attr("ry", d => d[3] * 1.1)
    .attr("fill", "#000")
    .attr("fill-opacity", d => 0.11 * d[5])
    .attr("filter", "url(#soft)")

// Contours
function drawLines(id, list, color, gen) {
    canvas.append("g").attr("id", id)
        .selectAll("path")
        .data(list)
        .enter()
        .append("path")
        .attr("d", d => gen(contourPoints(d[0], d[1])))
        .attr("fill", "none")
        .attr("stroke", color)
        .attr("stroke-width", 3.2)
        .attr("stroke-linejoin", "round")
        .attr("stroke-linecap", "round")
}

drawLines("white", whiteLines, "#fff", smoothLine)
drawLines("gray", grayLines, "#808080", smoothLine)
drawLines("blue", blueLines, "#0000ff", line)

// Spaxels
function cellsOf(spans) {
    let cells = []
    spans.forEach(s => {
        for (let k = 1; k < s.length; k += 2) {
            for (let c = s[k]; c <= s[k + 1]; c++) cells.push([s[0], c])
        }
    })
    return cells
}

function drawCells(id, spans, color, sw) {
    canvas.append("g").attr("id", id)
        .selectAll("rect")
        .data(cellsOf(spans))
        .enter()
        .append("rect")
        .attr("x", d => scale_x(spaxelRa0 - d[1] * spaxelRaStep))
        .attr("y", d => scale_y(spaxelDec0 + d[0] * spaxelDecStep))
        .attr("width", scale_x(spaxelRa0 - spaxelRaStep) - scale_x(spaxelRa0))
        .attr("height", scale_y(spaxelDec0 + spaxelDecStep) - scale_y(spaxelDec0))
        .attr("fill", "none")
        .attr("stroke", color)
        .attr("stroke-width", sw)
}

drawCells("blackCells", blackSpans, "#000", 7)
drawCells("magentaCells", magentaSpans, "#ff00ff", 3.4)

// Masks, ellipses run counter-clockwise from 3 o'clock
function ellipsePath(d) {
    let cx = scale_x(d[0]), cy = scale_y(d[1])
    let rx = Math.abs(scale_x(d[0] + d[2]) - cx)
    let ry = Math.abs(scale_y(d[1] + d[3]) - cy)
    return "M" + (cx + rx) + "," + cy +
        "A" + rx + "," + ry + " 0 1 0 " + (cx - rx) + "," + cy +
        "A" + rx + "," + ry + " 0 1 0 " + (cx + rx) + "," + cy
}

canvas.append("g").attr("id", "maskEllipses")
    .selectAll("path")
    .data(maskEllipses)
    .enter()
    .append("path")
    .attr("d", ellipsePath)
    .attr("fill", "none")
    .attr("stroke", "#000")
    .attr("stroke-width", 10.5)
    .attr("stroke-dasharray", "42 18")

canvas.append("path")
    .attr("id", "maskBox")
    .attr("d", line(maskBox) + "Z")
    .attr("fill", "none")
    .attr("stroke", "#000")
    .attr("stroke-width", 10.5)
    .attr("stroke-dasharray", "43 18")

// Frame and ticks
var axes = svg.append("g").attr("id", "Axes")

var raMinor = d3.range(0, 27).map(k => 39.3333 - k * (2 / 3)).filter(v => v > 22.3 && !raMajor.some(m => Math.abs(m - v) < 0.01))
var decMinor = d3.range(0, 26).map(k => 43 + k / 6).filter(v => v > 43.05 && v < 47.23 && !decMajor.some(m => Math.abs(m - v) < 0.01))

function tickSize(g) {
    g.select(".domain").remove()
    g.selectAll("line").attr("stroke", "#000").attr("stroke-width", 2.7)
    g.selectAll("text").remove()
}

var h = height - margin.bottom, r = width - margin.right

axes.append("g").attr("transform", "translate(0," + h + ")").call(d3.axisBottom(scale_x).tickValues(raMajor).tickSize(19)).call(tickSize)
axes.append("g").attr("transform", "translate(0," + h + ")").call(d3.axisBottom(scale_x).tickValues(raMinor).tickSize(8)).call(tickSize)
axes.append("g").attr("transform", "translate(0," + margin.top + ")").call(d3.axisTop(scale_x).tickValues(raMajor).tickSize(19)).call(tickSize)
axes.append("g").attr("transform", "translate(0," + margin.top + ")").call(d3.axisTop(scale_x).tickValues(raMinor).tickSize(8)).call(tickSize)
axes.append("g").attr("transform", "translate(" + margin.left + ",0)").call(d3.axisLeft(scale_y).tickValues(decMajor).tickSize(19)).call(tickSize)
axes.append("g").attr("transform", "translate(" + margin.left + ",0)").call(d3.axisLeft(scale_y).tickValues(decMinor).tickSize(8)).call(tickSize)
axes.append("g").attr("transform", "translate(" + r + ",0)").call(d3.axisRight(scale_y).tickValues(decMajor).tickSize(19)).call(tickSize)
axes.append("g").attr("transform", "translate(" + r + ",0)").call(d3.axisRight(scale_y).tickValues(decMinor).tickSize(8)).call(tickSize)

axes.append("rect")
    .attr("x", margin.left)
    .attr("y", margin.top)
    .attr("width", r - margin.left)
    .attr("height", h - margin.top)
    .attr("fill", "none")
    .attr("stroke", "#000")
    .attr("stroke-width", 3)

// Tick labels
raMajor.forEach((v, i) => {
    let t = axes.append("text")
        .attr("x", scale_x(v) - 1.5)
        .attr("y", 1562)
        .attr("text-anchor", "middle")
        .attr("font-size", 45.5)
    let parts = raLabels[i]
    parts.forEach((p, k) => {
        let sup = k % 2 == 1
        t.append("tspan")
            .attr("dy", sup ? -16.5 : (k == 0 ? 0 : 16.5))
            .attr("font-size", sup ? 32 : 45.5)
            .text(p)
    })
})

decMajor.forEach((v, i) => {
    axes.append("text")
        .attr("x", 231.5)
        .attr("y", scale_y(v))
        .attr("dy", 14)
        .attr("text-anchor", "end")
        .attr("font-size", 44.6)
        .text(decLabels[i])
})

// Axis titles
axes.append("text")
    .attr("x", (margin.left + r) / 2)
    .attr("y", 1628)
    .attr("text-anchor", "middle")
    .attr("font-size", 45.2)
    .text("Right Ascension")

axes.append("text")
    .attr("transform", "translate(127," + (margin.top + h) / 2 + ") rotate(-90)")
    .attr("text-anchor", "middle")
    .attr("font-size", 45.2)
    .text("Declination")
</script>
</body>
</html>
